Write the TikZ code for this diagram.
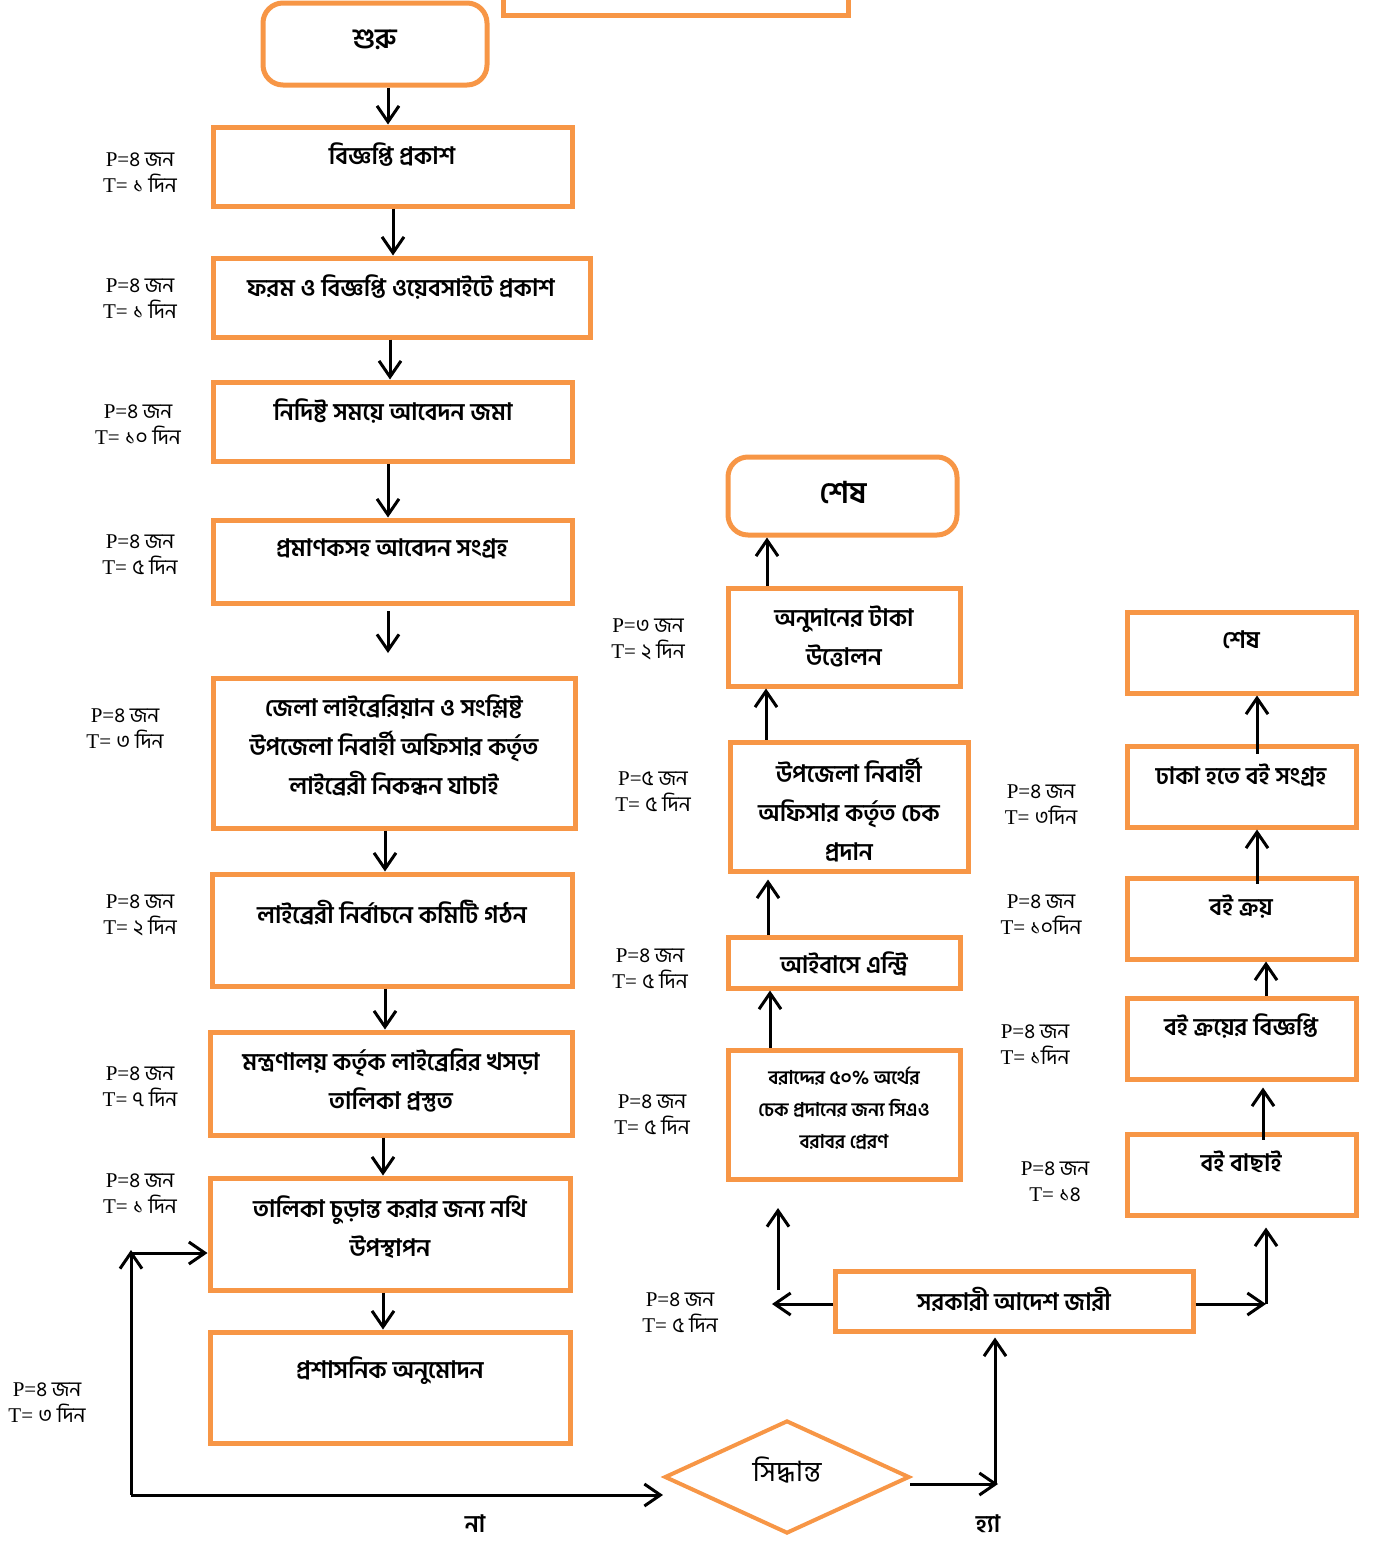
\documentclass[tikz,border=0pt]{standalone}
\usepackage{fontspec}
\setmainfont{Liberation Serif}
\newfontfamily\bn[Script=Bengali]{Hind Siliguri}
\usetikzlibrary{arrows.meta,shapes.geometric,fit}
\definecolor{obr}{RGB}{247,150,70}
\newcommand\ptlab[2]{P={\bn #1}\\T= {\bn #2}}
\tikzset{
  obox/.style={draw=obr, line width=2.5pt, inner sep=0pt},
  rbox/.style={obox, rounded corners=10pt},
  btxt/.style={font=\bn\bfseries\fontsize{12}{19.5}\selectfont, align=center, inner sep=0pt},
  stxt/.style={font=\bn\bfseries\fontsize{9.5}{16}\selectfont, align=center, inner sep=0pt},
  lbl/.style={font=\fontsize{10.5}{13}\selectfont, align=center, inner sep=0pt},
  arr/.style={-{Straight Barb[length=8pt,width=11pt]}, line width=1.5pt},
}
\begin{document}
\begin{tikzpicture}[x=0.5pt,y=-0.5pt]
\useasboundingbox (0,0) rectangle (1377,1547);
% partial top box
\draw[draw=obr, line width=2.5pt] (503,0) -- (503,15) -- (848,15) -- (848,0);

% ---------- left column ----------
\node[rbox, fit={(263,3) (487,85)}] (b0) {};
\node[btxt, font=\bn\bfseries\fontsize{14}{16}\selectfont] (t0) at (375,40) {শুরু};

\node[obox, fit={(213,127) (572,206)}] (b1) {};
\node[btxt] (t1) at (392,155) {বিজ্ঞপ্তি প্রকাশ};
\node[lbl] (l1) at (140,173) {\ptlab{৪ জন}{১ দিন}};

\node[obox, fit={(213,258) (590,337)}] (b2) {};
\node[btxt] (t2) at (401,287) {ফরম ও বিজ্ঞপ্তি ওয়েবসাইটে প্রকাশ};
\node[lbl] (l2) at (140,299) {\ptlab{৪ জন}{১ দিন}};

\node[obox, fit={(213,382) (572,461)}] (b3) {};
\node[btxt] (t3) at (393,411) {নিদিষ্ট সময়ে আবেদন জমা};
\node[lbl] (l3) at (138,425) {\ptlab{৪ জন}{১০ দিন}};

\node[obox, fit={(213,520) (572,603)}] (b4) {};
\node[btxt] (t4) at (392,549) {প্রমাণকসহ আবেদন সংগ্রহ};
\node[lbl] (l4) at (140,555) {\ptlab{৪ জন}{৫ দিন}};

\node[obox, fit={(213,678) (575,828)}] (b5) {};
\node[btxt] (t5) at (394,745) {জেলা লাইব্রেরিয়ান ও সংশ্লিষ্ট\\উপজেলা নিবার্হী অফিসার কর্তৃত\\লাইব্রেরী নিকন্ধন যাচাই};
\node[lbl] (l5) at (125,729) {\ptlab{৪ জন}{৩ দিন}};

\node[obox, fit={(212,874) (572,986)}] (b6) {};
\node[btxt] (t6) at (392,913) {লাইব্রেরী নির্বাচনে কমিটি গঠন};
\node[lbl] (l6) at (140,915) {\ptlab{৪ জন}{২ দিন}};

\node[obox, fit={(210,1032) (572,1135)}] (b7) {};
\node[btxt] (t7) at (391,1080) {মন্ত্রণালয় কর্তৃক লাইব্রেরির খসড়া\\তালিকা প্রস্তুত};
\node[lbl] (l7) at (140,1087) {\ptlab{৪ জন}{৭ দিন}};

\node[obox, fit={(210,1178) (570,1290)}] (b8) {};
\node[btxt] (t8) at (390,1227) {তালিকা চুড়ান্ত করার জন্য নথি\\উপস্থাপন};
\node[lbl] (l8) at (140,1194) {\ptlab{৪ জন}{১ দিন}};

\node[obox, fit={(210,1332) (570,1443)}] (b9) {};
\node[btxt] (t9) at (390,1371) {প্রশাসনিক অনুমোদন};
\node[lbl] (l9) at (47,1403) {\ptlab{৪ জন}{৩ দিন}};

\coordinate (x1) at (388,0);
\coordinate (x2) at (393,0);
\coordinate (x3) at (390,0);
\coordinate (x5) at (385,0);
\coordinate (x8) at (383,0);
\draw[arr] (b0.south -| x1) -- (b1.north -| x1);
\draw[arr] (b1.south -| x2) -- (b2.north -| x2);
\draw[arr] (b2.south -| x3) -- (b3.north -| x3);
\draw[arr] (b3.south -| x1) -- (b4.north -| x1);
\coordinate (f1) at (388,611);
\coordinate (f2) at (388,653);
\draw[arr] (f1) -- (f2);
\draw[arr] (b5.south -| x5) -- (b6.north -| x5);
\draw[arr] (b6.south -| x5) -- (b7.north -| x5);
\draw[arr] (b7.south -| x8) -- (b8.north -| x8);
\draw[arr] (b8.south -| x8) -- (b9.north -| x8);

% ---------- decision ----------
\node[diamond, draw=obr, line width=2pt, minimum width=245*0.5pt, minimum height=113*0.5pt, inner sep=0pt] (d) at (787,1477) {};
\node[font=\bn\fontsize{14}{16}\selectfont, inner sep=0pt] (td) at (787,1470) {সিদ্ধান্ত};
\node[btxt] (no) at (475,1524) {না};
\node[btxt] (yes) at (988,1524) {হ্যা};

\coordinate (lp1) at (131,1495);
\coordinate (lp2) at (131,1250);
\coordinate (lp3) at (131,1253);
\coordinate (dl) at (663,1495);
\draw[arr] (lp1) -- (dl);
\draw[arr] (lp1) -- (lp2);
\draw[arr] (lp3) -- (b8.west |- lp3);

% ---------- government order ----------
\node[obox, fit={(835,1271) (1193,1331)}] (g) {};
\node[btxt] (tg) at (1014,1299) {সরকারী আদেশ জারী};
\node[lbl] (lg) at (680,1313) {\ptlab{৪ জন}{৫ দিন}};

\coordinate (dr1) at (910,1484);
\coordinate (dr2) at (998,1484);
\coordinate (dr3) at (995,1484);
\coordinate (gx) at (995,0);
\draw[arr] (dr1) -- (dr2);
\draw[arr] (dr3) -- ([yshift=-2pt]g.south -| gx);

\coordinate (gl) at (772,1304);
\coordinate (gu1) at (778,1290);
\coordinate (gu2) at (778,1208);
\draw[arr] (g.west |- gl) -- (gl);
\draw[arr] (gu1) -- (gu2);

\coordinate (gr) at (1266,1304);
\draw[arr] (g.east |- gr) -- (gr);

% ---------- middle column ----------
\node[obox, fit={(728,1050) (960,1179)}] (m1) {};
\node[stxt] (tm1) at (844,1108) {বরাদ্দের ৫০\% অর্থের\\চেক প্রদানের জন্য সিএও\\বরাবর প্রেরণ};
\node[lbl] (lm1) at (652,1115) {\ptlab{৪ জন}{৫ দিন}};

\node[obox, fit={(728,937) (960,988)}] (m2) {};
\node[btxt] (tm2) at (844,964) {আইবাসে এন্ট্রি};
\node[lbl] (lm2) at (650,969) {\ptlab{৪ জন}{৫ দিন}};

\node[obox, fit={(730,742) (968,871)}] (m3) {};
\node[btxt] (tm3) at (849,810) {উপজেলা নিবার্হী\\অফিসার কর্তৃত চেক\\প্রদান};
\node[lbl] (lm3) at (653,792) {\ptlab{৫ জন}{৫ দিন}};

\node[obox, fit={(728,588) (960,686)}] (m4) {};
\node[btxt] (tm4) at (844,636) {অনুদানের টাকা\\উত্তোলন};
\node[lbl] (lm4) at (648,639) {\ptlab{৩ জন}{২ দিন}};

\node[rbox, fit={(728,457) (957,535)}] (m5) {};
\node[btxt, font=\bn\bfseries\fontsize{15}{17}\selectfont] (tm5) at (843,493) {শেষ};

\coordinate (mx1) at (770,0);
\coordinate (mx2) at (768,0);
\coordinate (mx3) at (766,0);
\coordinate (mx4) at (767,0);
\draw[arr] (m1.north -| mx1) -- (m2.south -| mx1);
\draw[arr] (m2.north -| mx2) -- ([yshift=-3pt]m3.south -| mx2);
\draw[arr] (m3.north -| mx3) -- (m4.south -| mx3);
\draw[arr] (m4.north -| mx4) -- (m5.south -| mx4);

% ---------- right column ----------
\node[obox, fit={(1127,1134) (1356,1215)}] (r1) {};
\node[btxt] (tr1) at (1241,1162) {বই বাছাই};
\node[lbl] (lr1) at (1055,1182) {P={\bn ৪ জন}\\T= {\bn ১৪}};

\node[obox, fit={(1127,998) (1356,1079)}] (r2) {};
\node[btxt] (tr2) at (1241,1026) {বই ক্রয়ের বিজ্ঞপ্তি};
\node[lbl] (lr2) at (1035,1045) {\ptlab{৪ জন}{১দিন}};

\node[obox, fit={(1127,878) (1356,959)}] (r3) {};
\node[btxt] (tr3) at (1241,907) {বই ক্রয়};
\node[lbl] (lr3) at (1041,915) {\ptlab{৪ জন}{১০দিন}};

\node[obox, fit={(1127,746) (1356,827)}] (r4) {};
\node[btxt] (tr4) at (1241,775) {ঢাকা হতে বই সংগ্রহ};
\node[lbl] (lr4) at (1041,805) {\ptlab{৪ জন}{৩দিন}};

\node[obox, fit={(1127,612) (1356,693)}] (r5) {};
\node[btxt] (tr5) at (1241,640) {শেষ};

\coordinate (rx1) at (1263,0);
\coordinate (rx2) at (1266,0);
\coordinate (rx3) at (1257,0);
\draw[arr] (gr) -- ([yshift=-5pt]r1.south -| gr);
\draw[arr] ([yshift=-4pt]r1.north -| rx1) -- ([yshift=-3pt]r2.south -| rx1);
\draw[arr] (r2.north -| rx2) -- (r3.south -| rx2);
\draw[arr] ([yshift=-4pt]r3.north -| rx3) -- (r4.south -| rx3);
\draw[arr] ([yshift=-5pt]r4.north -| rx3) -- (r5.south -| rx3);
\end{tikzpicture}
\end{document}
